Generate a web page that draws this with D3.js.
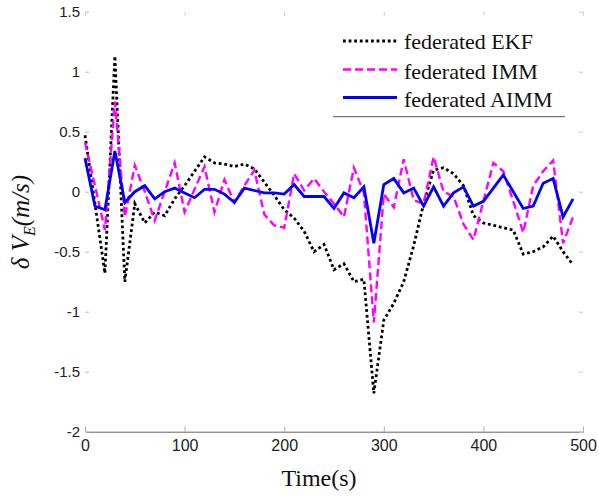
<!DOCTYPE html>
<html><head><meta charset="utf-8">
<script src="https://cdn.jsdelivr.net/npm/d3@7"></script>
<style>body{margin:0;background:#fff}svg{display:block}</style>
</head><body><svg id="c" width="599" height="498"></svg>
<script>
const times = [0,10,20,30,40,50,60,70,80,90,100,110,120,130,140,150,160,170,180,190,200,210,220,230,240,250,260,270,280,290,300,310,320,330,340,350,360,370,380,390,400,410,420,430,440,450,460,470,480,490];
const ekf = [0.47,-0.1,-0.68,1.13,-0.75,-0.1,-0.26,-0.17,-0.2,-0.06,0.05,0.17,0.29,0.24,0.23,0.21,0.23,0.19,0.08,-0.03,-0.15,-0.22,-0.33,-0.5,-0.44,-0.65,-0.6,-0.75,-0.73,-1.68,-1.07,-0.93,-0.75,-0.45,-0.1,0.18,0.2,0.15,0.05,-0.2,-0.26,-0.28,-0.3,-0.32,-0.52,-0.5,-0.46,-0.37,-0.5,-0.61];
const imm = [0.41,0.05,-0.32,0.75,-0.21,0.22,0.0,-0.24,0.0,0.24,-0.17,0.02,0.21,-0.17,0.1,-0.09,0.05,0.18,-0.19,-0.28,-0.3,0.15,0.01,0.11,0.0,-0.1,-0.21,0.2,-0.01,-1.09,-0.02,-0.13,0.27,-0.07,-0.1,0.29,0.0,-0.04,-0.27,-0.4,-0.08,0.24,0.17,-0.08,-0.34,0.05,0.17,0.26,-0.43,-0.21];
const aimm = [0.28,-0.12,-0.15,0.34,-0.09,0.0,0.05,-0.06,0.0,0.03,-0.01,-0.05,0.02,0.02,-0.02,-0.09,0.03,0.01,-0.01,-0.01,-0.02,0.06,-0.04,-0.04,-0.04,-0.14,-0.01,-0.05,0.04,-0.43,0.06,0.11,-0.01,0.03,-0.12,0.04,-0.12,-0.01,0.04,-0.12,-0.08,0.03,0.14,0.0,-0.14,-0.12,0.07,0.11,-0.21,-0.06];
const seriesNames = ["federated EKF","federated IMM","federated AIMM"];
const xTicks = [0,100,200,300,400,500];
const yTicks = [-2,-1.5,-1,-0.5,0,0.5,1,1.5];
const xTickLabels = ["0","100","200","300","400","500"];
const yTickLabels = ["-2","-1.5","-1","-0.5","0","0.5","1","1.5"];

const svg = d3.select("#c");
const L = 85, R = 583, T = 11.7, B = 431.7;
const x = d3.scaleLinear().domain([0,500]).range([L,R]);
const y = d3.scaleLinear().domain([-2,1.5]).range([B,T]);

// axes
const gx = svg.append("g").attr("transform",`translate(0,${B})`)
  .call(d3.axisBottom(x).tickValues(xTicks).tickFormat((d,i)=>xTickLabels[i]).tickSizeInner(-5).tickSizeOuter(0).tickPadding(8));
gx.select(".domain").attr("stroke","#666");
gx.selectAll(".tick line").attr("stroke","#aaa");
gx.selectAll("text").attr("font-family","'Liberation Sans', Arial, sans-serif").attr("font-size",16).attr("fill","#222");

const gy = svg.append("g").attr("transform",`translate(${L},0)`)
  .call(d3.axisLeft(y).tickValues(yTicks).tickFormat((d,i)=>yTickLabels[i]).tickSizeInner(-4).tickSizeOuter(0).tickPadding(5));
gy.select(".domain").remove();
gy.selectAll(".tick line").attr("stroke","#bbb");
gy.selectAll("text").attr("font-family","'Liberation Sans', Arial, sans-serif").attr("font-size",15).attr("fill","#222");

const gt = svg.append("g").attr("transform",`translate(0,${T})`)
  .call(d3.axisTop(x).tickValues(xTicks).tickFormat("").tickSizeInner(-4).tickSizeOuter(0));
gt.select(".domain").remove();
gt.selectAll(".tick line").attr("stroke","#ccc");

const gr = svg.append("g").attr("transform",`translate(${R},0)`)
  .call(d3.axisRight(y).tickValues(yTicks).tickFormat("").tickSizeInner(-4).tickSizeOuter(0));
gr.select(".domain").remove();
gr.selectAll(".tick line").attr("stroke","#ccc");

// lines
const styles = [
  {data: ekf, color:"#000000", width:2.8, dash:"2.8,2.8"},
  {data: imm, color:"#ff00ff", width:2.4, dash:"8,4"},
  {data: aimm, color:"#0000ff", width:2.8, dash:null}
];
const line = d3.line().x((d,i)=>x(times[i])).y(d=>y(d));
styles.forEach(s=>{
  svg.append("path").datum(s.data).attr("d",line)
    .attr("fill","none").attr("stroke",s.color).attr("stroke-width",s.width)
    .attr("stroke-dasharray",s.dash).attr("stroke-linejoin","miter");
});

// legend
const lg = svg.append("g");
const baseY = [49, 78.5, 107];
const lineY = [41, 69.5, 97.5];
styles.forEach((s,i)=>{
  lg.append("line").attr("x1",343).attr("x2",397).attr("y1",lineY[i]).attr("y2",lineY[i])
    .attr("stroke",s.color).attr("stroke-width",s.width).attr("stroke-dasharray",s.dash);
  lg.append("text").attr("x",404).attr("y",baseY[i]).text(seriesNames[i])
    .attr("font-family","'Liberation Serif', 'Times New Roman', serif").attr("font-size",22).attr("fill","#111");
});
lg.append("line").attr("x1",333).attr("x2",565).attr("y1",116.7).attr("y2",116.7).attr("stroke","#555").attr("stroke-width",1);

// axis titles
svg.append("text").attr("x",319).attr("y",486).attr("text-anchor","middle")
  .attr("font-family","'Liberation Serif', 'Times New Roman', serif").attr("font-size",24).attr("fill","#111")
  .text("Time(s)");
const yl = svg.append("text").attr("transform","translate(29,222) rotate(-90)").attr("text-anchor","middle")
  .attr("font-family","'Liberation Serif', 'Times New Roman', serif").attr("font-size",25).attr("font-style","italic").attr("fill","#111");
yl.append("tspan").text("δ V");
yl.append("tspan").attr("font-size",16).attr("dy",6).text("E");
yl.append("tspan").attr("dy",-6).text("(m/s)");
</script></body></html>
